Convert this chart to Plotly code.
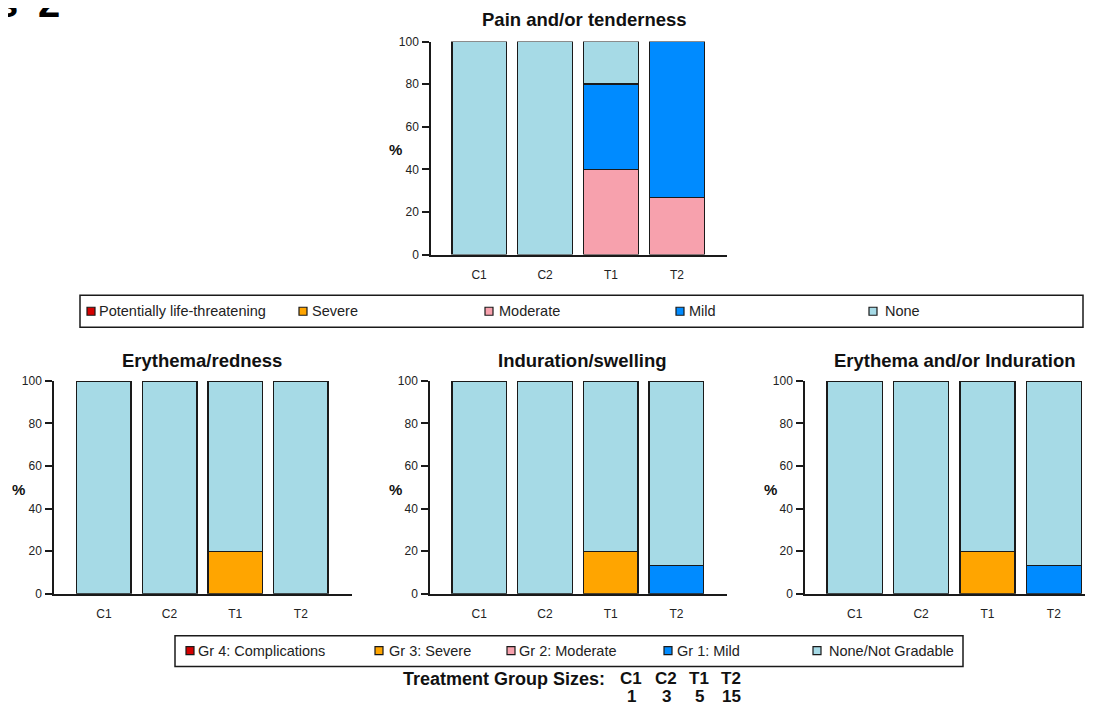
import plotly.graph_objects as go

W, H = 1093, 707
FONT = "Liberation Sans, Arial, Helvetica, sans-serif"
INK = "#1a1a1a"

# ---------------- data ----------------
categories = ["C1", "C2", "T1", "T2"]
group_sizes = [1, 3, 5, 15]
y_ticks = [0, 20, 40, 60, 80, 100]

top_levels = ["Potentially life-threatening", "Severe", "Moderate", "Mild", "None"]
bottom_levels = ["Gr 4: Complications", "Gr 3: Severe", "Gr 2: Moderate", "Gr 1: Mild", "None/Not Gradable"]
level_colors = ["#D40000", "#FFA500", "#F7A1AD", "#008BFF", "#A6DAE6"]

# Pain and/or tenderness (% of subjects)
pain_life = [0, 0, 0, 0]
pain_severe = [0, 0, 0, 0]
pain_moderate = [0, 0, 40, 26.7]
pain_mild = [0, 0, 40, 73.3]
pain_none = [100, 100, 20, 0]

# Erythema/redness
ery_complic = [0, 0, 0, 0]
ery_severe = [0, 0, 20, 0]
ery_moderate = [0, 0, 0, 0]
ery_mild = [0, 0, 0, 0]
ery_none = [100, 100, 80, 100]

# Induration/swelling
ind_complic = [0, 0, 0, 0]
ind_severe = [0, 0, 20, 0]
ind_moderate = [0, 0, 0, 0]
ind_mild = [0, 0, 0, 13.3]
ind_none = [100, 100, 80, 86.7]

# Erythema and/or Induration
ei_complic = [0, 0, 0, 0]
ei_severe = [0, 0, 20, 0]
ei_moderate = [0, 0, 0, 0]
ei_mild = [0, 0, 0, 13.3]
ei_none = [100, 100, 80, 86.7]

panel_titles = ["Pain and/or tenderness", "Erythema/redness", "Induration/swelling", "Erythema and/or Induration"]
panel_series = [
    [pain_life, pain_severe, pain_moderate, pain_mild, pain_none],
    [ery_complic, ery_severe, ery_moderate, ery_mild, ery_none],
    [ind_complic, ind_severe, ind_moderate, ind_mild, ind_none],
    [ei_complic, ei_severe, ei_moderate, ei_mild, ei_none],
]

# ---------------- layout helpers (target pixel -> paper) ----------------
DX, DY, SY = 8.0, 13.3, 0.985  # page offset / scale compensation of the viewer


def fx(x):
    return (x - DX) / W


def fy(y):
    return 1 - ((y - DY) / SY) / H


# panel boxes in target pixels: (x_left, x_right, y_top(100), y_bottom(0), x range)
panels_px = [
    (431, 727, 40, 254, [-0.73, 3.76]),
    (54, 352, 381, 595, [-0.76, 3.78]),
    (430, 727, 381, 595, [-0.75, 3.77]),
    (805, 1093, 381, 595, [-0.75, 3.59]),
]
title_px = [(584, 18), (202, 360), (582, 360), (955, 360)]
pct_px = [(395, 148), (18, 490), (395, 490), (770, 490)]

fig = go.Figure()
annotations = []
shapes = []

for i, (series, title, box) in enumerate(zip(panel_series, panel_titles, panels_px)):
    ax = "" if i == 0 else str(i + 1)
    xl, xr, yt, yb, xr_range = box
    for lvl, (vals, color) in enumerate(zip(series, level_colors)):
        fig.add_trace(go.Bar(
            x=categories,
            y=[v if v else None for v in vals],
            name=(top_levels if i == 0 else bottom_levels)[lvl],
            marker=dict(color=color, line=dict(color=INK, width=1.5)),
            xaxis="x" + ax, yaxis="y" + ax,
            showlegend=False,
            hovertemplate="%{x}: %{y}%<extra>%{fullData.name}</extra>",
        ))
    fig.layout["xaxis" + ax] = dict(
        domain=[fx(xl), fx(xr)], range=xr_range, anchor="y" + ax,
        showline=True, linecolor=INK, linewidth=1.5, ticks="",
        showgrid=False, zeroline=False, ticklabelstandoff=8,
        tickfont=dict(family=FONT, size=12, color="#222"), fixedrange=True,
    )
    fig.layout["yaxis" + ax] = dict(
        domain=[fy(yb), fy(yt)], range=[0, 100], anchor="x" + ax,
        tickvals=y_ticks, ticks="outside", ticklen=7, tickwidth=1.5, tickcolor=INK,
        showline=True, linecolor=INK, linewidth=1.5,
        showgrid=False, zeroline=False, ticklabelstandoff=1,
        tickfont=dict(family=FONT, size=12, color="#222"), fixedrange=True,
    )
    tx, ty = title_px[i]
    annotations.append(dict(text="<b>%s</b>" % title, x=fx(tx), y=fy(ty), xref="paper", yref="paper",
                            xanchor="center", yanchor="middle", showarrow=False,
                            font=dict(family=FONT, size=18.5, color="#111")))
    px_, py_ = pct_px[i]
    annotations.append(dict(text="<b>%</b>", x=fx(px_), y=fy(py_), xref="paper", yref="paper",
                            xanchor="center", yanchor="middle", showarrow=False,
                            font=dict(family=FONT, size=15, color="#111")))


# ---------------- custom legends ----------------
def legend(box, labels, sq_x, txt_x, yc):
    x0, x1, y0, y1 = box
    shapes.append(dict(type="rect", xref="paper", yref="paper", x0=fx(x0), x1=fx(x1), y0=fy(y1), y1=fy(y0),
                       line=dict(color=INK, width=1.5), fillcolor="rgba(0,0,0,0)"))
    for lab, col, sx, tx in zip(labels, level_colors, sq_x, txt_x):
        shapes.append(dict(type="rect", xref="paper", yref="paper",
                           x0=fx(sx - 4), x1=fx(sx + 4), y0=fy(yc + 4), y1=fy(yc - 4),
                           line=dict(color=INK, width=1.2), fillcolor=col))
        annotations.append(dict(text=lab, x=fx(tx), y=fy(yc), xref="paper", yref="paper",
                                xanchor="left", yanchor="middle", showarrow=False,
                                font=dict(family=FONT, size=14.5, color="#222")))


legend((80, 1083, 295, 327), top_levels, [91, 303, 489, 680, 873], [97, 310, 497, 687, 883], 311)
legend((175, 963, 637, 668), bottom_levels, [190, 379, 511, 668, 817], [196, 387, 517, 675, 827], 652)

# ---------------- group sizes ----------------
annotations.append(dict(text="<b>Treatment Group Sizes:</b>", x=fx(607), y=fy(681), xref="paper", yref="paper",
                        xanchor="right", yanchor="middle", showarrow=False,
                        font=dict(family=FONT, size=18, color="#111")))
for cat, n, cx in zip(categories, group_sizes, [631, 666, 699, 731]):
    annotations.append(dict(text="<b>%s</b>" % cat, x=fx(cx), y=fy(680), xref="paper", yref="paper",
                            xanchor="center", yanchor="middle", showarrow=False,
                            font=dict(family=FONT, size=17, color="#111")))
    annotations.append(dict(text="<b>%d</b>" % n, x=fx(cx), y=fy(698), xref="paper", yref="paper",
                            xanchor="center", yanchor="middle", showarrow=False,
                            font=dict(family=FONT, size=17, color="#111")))

# cropped figure label at the top-left corner
annotations.append(dict(text="<b>s</b>", x=fx(20), y=fy(25), xref="paper", yref="paper",
                        xanchor="right", yanchor="bottom", showarrow=False,
                        font=dict(family=FONT, size=40, color="#000")))
annotations.append(dict(text="<b>2</b>", x=fx(36), y=fy(25), xref="paper", yref="paper",
                        xanchor="left", yanchor="bottom", showarrow=False,
                        font=dict(family=FONT, size=40, color="#000")))

fig.update_layout(
    width=W, height=H, margin=dict(l=0, r=0, t=0, b=0),
    barmode="stack", bargap=0.17,
    plot_bgcolor="white", paper_bgcolor="white",
    font=dict(family=FONT, color="#222"),
    annotations=annotations, shapes=shapes,
)

fig.write_html("out.html")
